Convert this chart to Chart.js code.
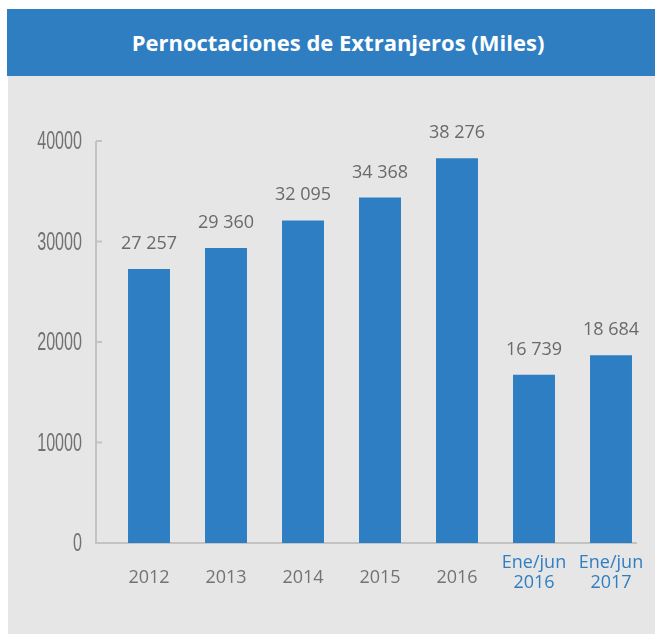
<!DOCTYPE html>
<html>
<head>
<meta charset="utf-8">
<script src="https://cdn.jsdelivr.net/npm/chart.js@4/dist/chart.umd.min.js"></script>
<style>
  html, body { margin: 0; padding: 0; background: #ffffff; width: 655px; height: 634px; overflow: hidden; }
  #banner { position: absolute; left: 7px; top: 9px; width: 648px; height: 67px; background: #2f7ec2; }
  #title { position: absolute; left: 0; width: 100%; top: 0; height: 67px; line-height: 66px; text-align: center;
           color: #ffffff; font-family: "Open Sans", sans-serif; font-weight: 700; font-size: 22px; padding-left: 14px; box-sizing: border-box; }
  #panel { position: absolute; left: 8px; top: 76px; width: 647px; height: 558px; background: #e6e6e6; }
  #chart { position: absolute; left: 0; top: 0; }
</style>
</head>
<body>
<div id="banner"><div id="title">Pernoctaciones de Extranjeros (Miles)</div></div>
<div id="panel"><canvas id="chart" width="647" height="558"></canvas></div>
<script>
const categories = [["2012"], ["2013"], ["2014"], ["2015"], ["2016"], ["Ene/jun", "2016"], ["Ene/jun", "2017"]];
const values = [27257, 29360, 32095, 34368, 38276, 16739, 18684];
const yTicks = [0, 10000, 20000, 30000, 40000];
const highlightLabel = [false, false, false, false, false, true, true];

const BLUE = "#2e7ec3";
const LABEL_BLUE = "#2f7ec2";
const GREY_TXT = "#6a6a6a";
const XLABEL_GREY = "#737373";
const AXIS = "#c3c3c3";

function fmt(v) { return String(v).replace(/\B(?=(\d{3})+(?!\d))/g, " "); }

const axisPlugin = {
  id: "customAxes",
  beforeDatasetsDraw(chart) {
    const ctx = chart.ctx, ca = chart.chartArea, y = chart.scales.y, x = chart.scales.x;
    const ax = ca.left - 14.5;
    const xr = ca.right - 12.5;
    const yTop = y.getPixelForValue(yTicks[yTicks.length - 1]);
    const y0 = y.getPixelForValue(0);
    ctx.save();
    ctx.strokeStyle = AXIS;
    ctx.lineWidth = 2;
    ctx.beginPath();
    ctx.moveTo(ax, yTop); ctx.lineTo(ax, y0); ctx.lineTo(xr, y0);
    yTicks.forEach(t => {
      const py = y.getPixelForValue(t);
      ctx.moveTo(ax, py); ctx.lineTo(ax + 6, py);
    });
    ctx.stroke();
    // y tick labels (condensed)
    ctx.fillStyle = "#727272";
    ctx.textBaseline = "middle";
    ctx.textAlign = "right";
    ctx.font = '26px "Liberation Sans", sans-serif';
    const sx = 0.62;
    yTicks.forEach(t => {
      const py = y.getPixelForValue(t);
      ctx.save();
      ctx.translate(ax - 14, py + 1);
      ctx.scale(sx, 1);
      ctx.fillText(String(t), 0, 0);
      ctx.restore();
    });
    // x category labels
    ctx.font = '18px "Open Sans", sans-serif';
    ctx.textAlign = "center";
    ctx.textBaseline = "alphabetic";
    categories.forEach((lines, i) => {
      const px = x.getPixelForValue(i);
      ctx.fillStyle = highlightLabel[i] ? LABEL_BLUE : XLABEL_GREY;
      if (lines.length === 1) {
        ctx.fillText(lines[0], px, y0 + 40);
      } else {
        ctx.fillText(lines[0], px, y0 + 24.5);
        ctx.fillText(lines[1], px, y0 + 45);
      }
    });
    ctx.restore();
  },
  afterDatasetsDraw(chart) {
    const ctx = chart.ctx;
    const meta = chart.getDatasetMeta(0);
    ctx.save();
    ctx.fillStyle = GREY_TXT;
    ctx.font = '18px "Open Sans", sans-serif';
    ctx.textAlign = "center";
    ctx.textBaseline = "alphabetic";
    meta.data.forEach((bar, i) => {
      ctx.fillText(fmt(values[i]), bar.x, bar.y - 20);
    });
    ctx.restore();
  }
};

new Chart(document.getElementById("chart"), {
  type: "bar",
  data: {
    labels: categories.map(l => l.join(" ")),
    datasets: [{
      data: values,
      backgroundColor: BLUE,
      borderWidth: 0,
      categoryPercentage: 1,
      barPercentage: 0.545
    }]
  },
  options: {
    responsive: false,
    animation: false,
    devicePixelRatio: 1,
    layout: { padding: { left: 102.5, right: 5.5, top: 65, bottom: 91 } },
    plugins: { legend: { display: false }, tooltip: { enabled: false }, title: { display: false } },
    scales: {
      x: { display: false },
      y: {
        display: false,
        min: 0, max: 40000,
        ticks: { stepSize: 10000 }
      }
    }
  },
  plugins: [axisPlugin]
});
</script>
</body>
</html>
